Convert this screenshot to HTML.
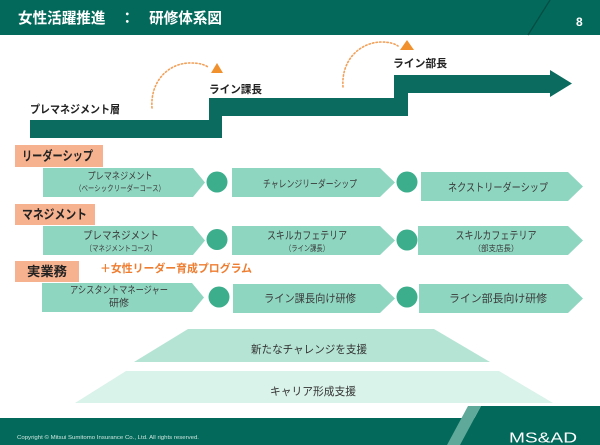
<!DOCTYPE html>
<html><head><meta charset="utf-8">
<style>
html,body{margin:0;padding:0;background:#fff;}
svg{display:block;}
text{font-family:"Liberation Sans","Noto Sans CJK JP",sans-serif;}
</style></head>
<body>
<svg width="600" height="445" viewBox="0 0 600 445" xmlns="http://www.w3.org/2000/svg">
<!-- header -->
<rect x="0" y="0" width="600" height="35" fill="#03695b"/>
<line x1="550" y1="0" x2="528" y2="35" stroke="#024d43" stroke-width="1.2"/>
<text x="18" y="23" font-size="15" font-weight="bold" fill="#fff" textLength="204" lengthAdjust="spacingAndGlyphs">女性活躍推進　：　研修体系図</text>
<text x="576" y="26" font-size="12" font-weight="bold" fill="#fff">8</text>

<!-- staircase -->
<polygon points="30,120 209,120 209,98 394,98 394,75 550,75 550,70 572,83.5 550,97 550,93 408,93 408,116 222,116 222,138 30,138" fill="#0b6b5e"/>
<text x="30" y="113" font-size="11" font-weight="bold" fill="#222" textLength="90" lengthAdjust="spacingAndGlyphs">プレマネジメント層</text>
<text x="209" y="93" font-size="11" font-weight="bold" fill="#222" textLength="53" lengthAdjust="spacingAndGlyphs">ライン課長</text>
<text x="393" y="67" font-size="11" font-weight="bold" fill="#222" textLength="54" lengthAdjust="spacingAndGlyphs">ライン部長</text>

<!-- dotted arcs -->
<path d="M152,108 C150,80 170,62 192,63 C200,63 205,65 208,67" fill="none" stroke="#f2a15a" stroke-width="1.6" stroke-dasharray="1.4 2.2" stroke-linecap="round"/>
<polygon points="217,63 211,73 223,73" fill="#f0912e"/>
<path d="M343,87 C341,60 360,42 382,42 C390,42 395,44 398,46" fill="none" stroke="#f2a15a" stroke-width="1.6" stroke-dasharray="1.4 2.2" stroke-linecap="round"/>
<polygon points="407,40 400,50 414,50" fill="#f0912e"/>

<!-- row labels -->
<rect x="15" y="145" width="88" height="22" fill="#f6b18f"/>
<text x="22" y="160.5" font-size="13" font-weight="bold" fill="#222" textLength="71" lengthAdjust="spacingAndGlyphs">リーダーシップ</text>
<rect x="15" y="204" width="80" height="21" fill="#f6b18f"/>
<text x="22" y="219" font-size="13" font-weight="bold" fill="#222" textLength="65" lengthAdjust="spacingAndGlyphs">マネジメント</text>
<rect x="15" y="261" width="64" height="21" fill="#f6b18f"/>
<text x="27" y="276" font-size="13" font-weight="bold" fill="#222" textLength="40" lengthAdjust="spacingAndGlyphs">実業務</text>
<text x="100" y="272" font-size="11" font-weight="bold" fill="#ee7d30" textLength="152" lengthAdjust="spacingAndGlyphs">＋女性リーダー育成プログラム</text>

<!-- row 1 -->
<polygon points="43,168 193,168 205,182.5 193,197 43,197" fill="#8fd6c1"/>
<circle cx="217" cy="182" r="10.5" fill="#3cae8b"/>
<polygon points="232,168 380,168 395,182.5 380,197 232,197" fill="#8fd6c1"/>
<circle cx="407" cy="182" r="10.5" fill="#3cae8b"/>
<polygon points="421,172 568,172 583,186.5 568,201 421,201" fill="#8fd6c1"/>
<text x="120" y="179.5" font-size="10" fill="#3a3a3a" text-anchor="middle" textLength="65" lengthAdjust="spacingAndGlyphs">プレマネジメント</text>
<text x="120" y="191" font-size="8" fill="#3a3a3a" text-anchor="middle" textLength="90" lengthAdjust="spacingAndGlyphs">（ベーシックリーダーコース）</text>
<text x="310" y="187.5" font-size="10" fill="#3a3a3a" text-anchor="middle" textLength="94" lengthAdjust="spacingAndGlyphs">チャレンジリーダーシップ</text>
<text x="498" y="191" font-size="11" fill="#3a3a3a" text-anchor="middle" textLength="100" lengthAdjust="spacingAndGlyphs">ネクストリーダーシップ</text>

<!-- row 2 -->
<polygon points="43,226 193,226 205,240.5 193,255 43,255" fill="#8fd6c1"/>
<circle cx="217" cy="239.5" r="10.5" fill="#3cae8b"/>
<polygon points="232,226 380,226 395,240.5 380,255 232,255" fill="#8fd6c1"/>
<circle cx="407" cy="240" r="10.5" fill="#3cae8b"/>
<polygon points="418,226 568,226 583,240.5 568,255 418,255" fill="#8fd6c1"/>
<text x="121" y="239" font-size="11" fill="#3a3a3a" text-anchor="middle" textLength="76" lengthAdjust="spacingAndGlyphs">プレマネジメント</text>
<text x="121" y="251" font-size="8" fill="#3a3a3a" text-anchor="middle" textLength="71" lengthAdjust="spacingAndGlyphs">（マネジメントコース）</text>
<text x="307" y="239" font-size="11" fill="#3a3a3a" text-anchor="middle" textLength="80" lengthAdjust="spacingAndGlyphs">スキルカフェテリア</text>
<text x="307" y="251" font-size="8" fill="#3a3a3a" text-anchor="middle" textLength="44" lengthAdjust="spacingAndGlyphs">（ライン課長）</text>
<text x="496" y="239" font-size="11" fill="#3a3a3a" text-anchor="middle" textLength="81" lengthAdjust="spacingAndGlyphs">スキルカフェテリア</text>
<text x="496" y="251" font-size="8" fill="#3a3a3a" text-anchor="middle" textLength="45" lengthAdjust="spacingAndGlyphs">（部支店長）</text>

<!-- row 3 -->
<polygon points="42,283 192,283 204,297.5 192,312 42,312" fill="#8fd6c1"/>
<circle cx="219" cy="297" r="10.5" fill="#3cae8b"/>
<polygon points="233,284 380,284 395,298.5 380,313 233,313" fill="#8fd6c1"/>
<circle cx="407" cy="297" r="10.5" fill="#3cae8b"/>
<polygon points="419,284 568,284 583,298.5 568,313 419,313" fill="#8fd6c1"/>
<text x="119" y="293.5" font-size="10" fill="#3a3a3a" text-anchor="middle" textLength="98" lengthAdjust="spacingAndGlyphs">アシスタントマネージャー</text>
<text x="119" y="306.5" font-size="10" fill="#3a3a3a" text-anchor="middle">研修</text>
<text x="310" y="302" font-size="11" fill="#3a3a3a" text-anchor="middle" textLength="92" lengthAdjust="spacingAndGlyphs">ライン課長向け研修</text>
<text x="498" y="302" font-size="11" fill="#3a3a3a" text-anchor="middle" textLength="98" lengthAdjust="spacingAndGlyphs">ライン部長向け研修</text>

<!-- pyramid -->
<polygon points="188,329 434,329 490,362 134,362" fill="#b5e4d5"/>
<text x="309" y="353" font-size="11" fill="#333" text-anchor="middle" textLength="116" lengthAdjust="spacingAndGlyphs">新たなチャレンジを支援</text>
<polygon points="126,371 499,371 553,403 75,403" fill="#d9f2ea"/>
<text x="313" y="395" font-size="11" fill="#333" text-anchor="middle" textLength="86" lengthAdjust="spacingAndGlyphs">キャリア形成支援</text>

<!-- footer -->
<rect x="0" y="418" width="600" height="27" fill="#03695b"/>
<polygon points="481,406 600,406 600,445 460,445" fill="#03695b"/>
<polygon points="468,406 481,406 460,445 447,445" fill="#5fa99a"/>
<text x="17" y="439" font-size="5.5" fill="#cfe6df" textLength="182" lengthAdjust="spacingAndGlyphs">Copyright © Mitsui Sumitomo Insurance Co., Ltd. All rights reserved.</text>
<text x="509" y="442.5" font-size="15" fill="#fff" textLength="68" lengthAdjust="spacingAndGlyphs">MS&amp;AD</text>
</svg>
</body></html>
